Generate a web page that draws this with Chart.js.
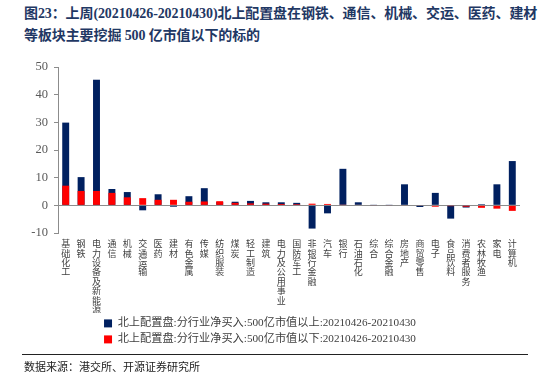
<!DOCTYPE html>
<html>
<head>
<meta charset="utf-8">
<script src="https://cdn.jsdelivr.net/npm/chart.js@4/dist/chart.umd.min.js"></script>
<style>
  body { margin: 0; width: 550px; height: 374px; background: #fff; position: relative; overflow: hidden; font-family: "Liberation Serif", "Noto Sans CJK SC", serif; }
  .title { position: absolute; left: 24px; top: 3px; white-space: nowrap; font-family: "Liberation Serif", "Noto Sans CJK SC", serif; font-weight: bold; font-size: 14px; line-height: 22px; letter-spacing: -0.1px; color: #1f3864; }
  .chart-wrap { position: absolute; left: 0; top: 50px; width: 550px; height: 305px; }
  .rule { position: absolute; left: 22px; top: 354px; width: 506px; border-top: 1.5px solid #222; }
  .source { position: absolute; left: 24px; top: 358px; font-size: 11px; color: #222; font-family: "Noto Sans CJK SC", sans-serif; }
</style>
</head>
<body>
<div class="title">图23：上周(20210426-20210430)北上配置盘在钢铁、通信、机械、交运、医药、建材<br>等板块主要挖掘 500 亿市值以下的标的</div>
<div class="chart-wrap"><canvas id="mainChart"></canvas></div>
<div class="rule"></div>
<div class="source">数据来源：港交所、开源证券研究所</div>
<script>
const categories = ["基础化工", "钢铁", "电力设备及新能源", "通信", "机械", "交通运输", "医药", "建材", "有色金属", "传媒",
    "纺织服装", "煤炭", "轻工制造", "建筑", "电力及公用事业", "国防军工", "非银行金融", "汽车", "银行", "石油石化",
    "综合", "综合金融", "房地产", "商贸零售", "电子", "食品饮料", "消费者服务", "农林牧渔", "家电", "计算机"];

// 500亿市值以上
const largeCap = [29.9, 10.2, 45.4, 5.9, 4.8, -1.8, 4.0, -0.5, 3.3, 6.2,
    1.2, 1.3, 1.6, 1.1, 1.1, 0.9, -8.4, -2.9, 13.2, 1.1,
    0.1, 0.1, 7.6, -0.6, 4.5, -4.8, -0.8, 0.4, 7.6, 16.0];

// 500亿市值以下
const smallCap = [7.1, 5.2, 5.2, 4.5, 2.9, 2.6, 2.0, 2.0, 1.3, 1.4,
    1.5, 0.9, 0.7, 0.6, 0.5, 0.4, 0.6, 0.5, 0.1, 0.2,
    -0.2, -0.2, -0.2, -0.2, -0.5, -0.3, -0.5, -0.9, -1.2, -2.0];

const yTicks = [-10, 0, 10, 20, 30, 40, 50];

const seriesNames = [
    "北上配置盘:分行业净买入:500亿市值以上:20210426-20210430",
    "北上配置盘:分行业净买入:500亿市值以下:20210426-20210430",
];

const labelFont = "'Liberation Serif', 'Noto Sans CJK SC', serif";

new Chart(document.getElementById("mainChart"), {
    type: "bar",
    data: {
        // one character per line gives upright vertical text
        labels: categories.map((c) => c.split("")),
        datasets: [
            {
                label: seriesNames[0],
                data: largeCap,
                backgroundColor: "#002060",
                borderColor: "#002060",
                borderWidth: 0,
                barPercentage: 0.9,
                categoryPercentage: 0.5,
                order: 1,
            },
            {
                label: seriesNames[1],
                data: smallCap,
                backgroundColor: "#ff0000",
                borderColor: "#ff0000",
                borderWidth: 0,
                barPercentage: 0.9,
                categoryPercentage: 0.5,
                order: 0,
            },
        ],
    },
    options: {
        responsive: true,
        maintainAspectRatio: false,
        animation: false,
        layout: { padding: { top: 17, right: 30, left: 0, bottom: 0 } },
        plugins: {
            tooltip: { enabled: false },
            legend: {
                position: "bottom",
                labels: {
                    boxWidth: 8,
                    boxHeight: 8,
                    padding: 4.8,
                    color: "#404040",
                    font: { family: labelFont, size: 11.2 },
                    sort: (a, b) => a.datasetIndex - b.datasetIndex,
                },
            },
        },
        scales: {
            x: {
                stacked: true,
                grid: { display: false, drawTicks: false },
                border: { display: false },
                ticks: {
                    autoSkip: false,
                    maxRotation: 0,
                    minRotation: 0,
                    padding: 6,
                    color: "#404040",
                    font: { family: "'Noto Sans CJK SC', sans-serif", size: 9, lineHeight: 1.05 },
                },
                afterFit: (s) => { s.height = 80; },
            },
            y: {
                stacked: false,
                min: -10,
                max: 50,
                afterBuildTicks: (s) => { s.ticks = yTicks.map((v) => ({ value: v })); },
                afterFit: (s) => { s.width = 58; },
                grid: {
                    color: (ctx) => (ctx.tick && ctx.tick.value === 0 ? "#8c8c8c" : "rgba(0,0,0,0)"),
                    tickColor: "#8c8c8c",
                    tickLength: 4,
                    lineWidth: 1,
                },
                border: { display: true, color: "#8c8c8c" },
                ticks: {
                    padding: 6,
                    color: "#595959",
                    font: { family: labelFont, size: 12.5 },
                },
            },
        },
    },
});
</script>
</body>
</html>
